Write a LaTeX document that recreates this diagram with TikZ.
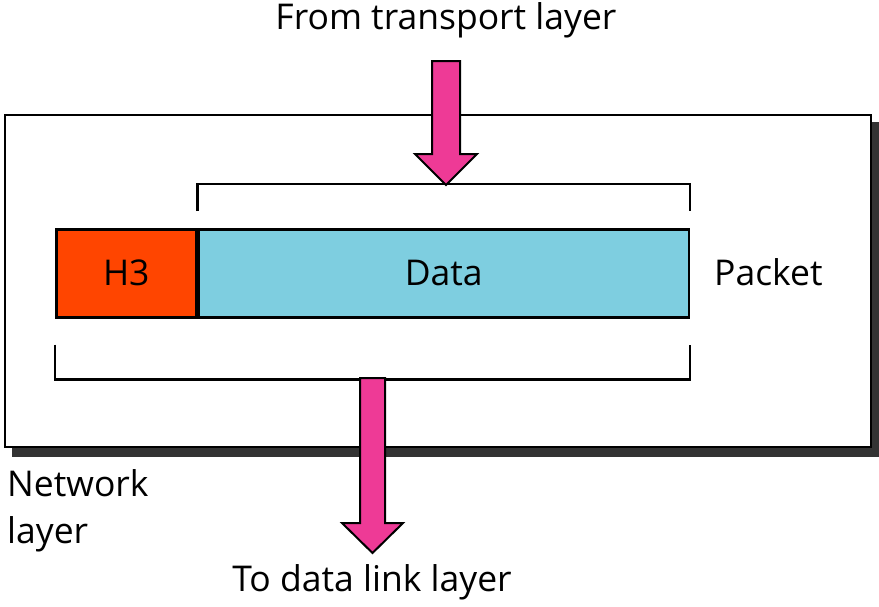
\documentclass[tikz,border=0pt]{standalone}
\usepackage{fontspec}
\setmainfont{Open Sans}
\definecolor{arrowpink}{RGB}{238,58,150}
\definecolor{headred}{RGB}{255,69,0}
\definecolor{datablue}{RGB}{126,206,224}
\tikzset{
  field/.style={draw, line width=2.5pt, minimum height=88pt, inner sep=0pt},
  bigarrow/.style={draw, fill=arrowpink, line width=2pt, line join=miter},
  label/.style={inner sep=0pt, font=\fontsize{35.5}{47}\selectfont}
}

\begin{document}
\begin{tikzpicture}[x=1pt,y=-1pt]
\useasboundingbox (0,0) rectangle (879,606);
% layer box with shadow
\fill[black!80] (12,122) rectangle (879,457);
\draw[line width=2.5pt, fill=white] (5,115) rectangle (871,447);

% packet
\node[field, fill=headred, minimum width=140pt, anchor=north west, label] (h3) at (55,228) {H3};
\node[field, fill=datablue, minimum width=490pt, anchor=west, label] (data) at (h3.east) {Data};
\node[label, anchor=west] (packet) at (714,272) {Packet};

% brackets
\draw[line width=2.5pt] ([yshift=17pt]data.north west) |- ([yshift=44pt]data.north east) -- ([yshift=17pt]data.north east);
\draw[line width=2.5pt] ([yshift=-26pt]h3.south west) |- ([yshift=-61pt]data.south east) -- ([yshift=-26pt]data.south east);

% arrows in and out
\node[label] (from) at (446,20) {From transport layer};
\node[label] (to) at (372,582) {To data link layer};
\draw[bigarrow] (432,61) -- (460,61) -- (460,154) -- (477,154) -- (446,185) -- (415,154) -- (432,154) -- cycle;
\draw[bigarrow] (360,378) -- (385,378) -- (385,523) -- (403,523) -- (372.5,553) -- (342,523) -- (360,523) -- cycle;

\node[label, anchor=west, align=left] (netlayer) at (7,511) {Network\\layer};
\end{tikzpicture}
\end{document}
